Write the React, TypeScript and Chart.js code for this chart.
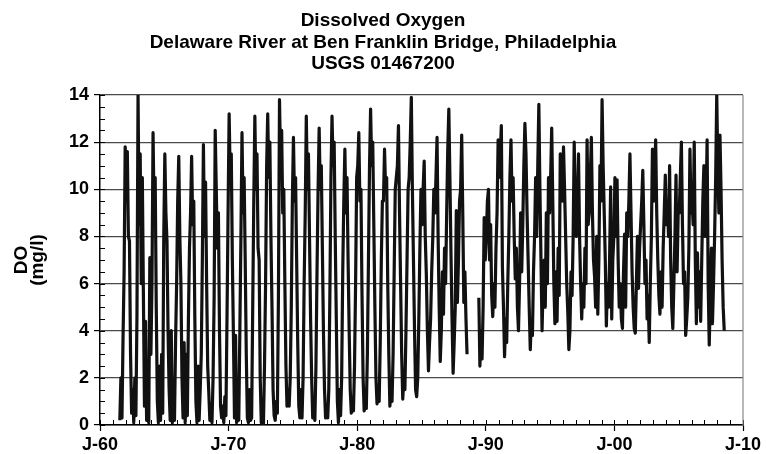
import React, { useEffect, useRef } from "react";
import { Chart, registerables } from "chart.js";

Chart.register(...registerables);

// ---- Titles / labels ----
const titleLines = [
  "Dissolved Oxygen",
  "Delaware River at Ben Franklin Bridge, Philadelphia",
  "USGS 01467200",
];
const yTitleLines = ["DO", "(mg/l)"];
const xTickValues = [1960, 1970, 1980, 1990, 2000, 2010];
const xTickLabels = ["J-60", "J-70", "J-80", "J-90", "J-00", "J-10"];

// ---- Data: monthly DO (mg/l), starting July 1961 ----
const firstYear = 1961;
const firstMonth = 6; // July (0-based)

const do1960s = [
  0.2, 2.0, 0.3, 3.7, 6.5, 11.8,
  9.5, 11.6, 8.0, 7.8, 3.0, 0.5, 1.5, 0.1, 2.0, 0.4, 4.7, 14.0,
  8.5, 11.5, 6.0, 10.5, 5.5, 0.8, 4.4, 0.2, 1.8, 0.1, 7.1, 3.0,
  6.0, 12.4, 9.0, 10.5, 5.0, 1.0, 0.1, 2.5, 0.2, 3.0, 0.5, 8.0,
  11.5, 9.0, 7.8, 4.0, 1.5, 0.2, 4.0, 0.1, 1.5, 0.2, 3.5, 6.0,
  9.5, 11.4, 8.0, 6.0, 2.0, 0.3, 3.5, 0.1, 3.0, 0.4, 4.5, 7.5,
  9.0, 11.4, 8.5, 9.5, 4.5, 1.0, 0.1, 2.5, 0.2, 1.5, 3.0, 7.0,
  11.9, 8.0, 10.3, 6.0, 2.5, 1.4, 0.2, 0.9, 0.1, 2.0, 5.4, 12.5,
  10.0, 7.5, 9.0, 4.0, 0.8, 0.3, 0.8, 0.1, 1.2, 0.4, 4.5, 9.0,
];
const do1970s = [
  13.2, 10.5, 11.5, 7.0, 3.8, 0.3, 3.8, 0.1, 0.5, 0.2, 4.0, 8.0,
  12.4, 9.0, 10.5, 7.0, 3.0, 0.3, 0.1, 1.5, 0.2, 0.3, 5.0, 9.5,
  13.1, 10.0, 11.5, 7.5, 7.0, 2.0, 0.1, 0.3, 0.0, 2.5, 6.0, 11.0,
  13.2, 10.5, 12.0, 8.0, 5.0, 1.5, 0.4, 0.2, 1.0, 0.5, 5.5, 13.8,
  11.0, 12.5, 9.0, 10.0, 6.0, 2.5, 0.8, 1.5, 0.8, 2.0, 5.0, 9.5,
  12.2, 9.5, 10.5, 7.0, 3.5, 0.8, 0.3, 1.5, 0.3, 2.0, 6.0, 9.0,
  13.1, 10.0, 11.5, 8.0, 4.5, 2.0, 0.3, 1.0, 0.2, 2.5, 6.5, 10.0,
  12.6, 10.0, 11.0, 7.5, 4.0, 1.5, 0.3, 0.8, 0.3, 1.5, 5.5, 10.5,
  13.1, 11.0, 12.0, 8.0, 4.5, 1.0, 0.1, 1.5, 0.4, 2.0, 6.5, 9.5,
  11.7, 9.0, 10.5, 7.0, 4.0, 1.5, 0.5, 1.0, 0.6, 2.5, 6.0, 10.5,
];
const do1980s = [
  11.0, 12.4, 9.5, 10.0, 5.5, 2.0, 0.6, 1.5, 0.7, 3.0, 7.0, 11.0,
  13.4, 11.0, 12.0, 8.5, 5.0, 2.0, 0.9, 1.5, 1.0, 3.5, 7.0, 9.5,
  9.5, 11.7, 10.0, 10.5, 6.0, 3.0, 0.8, 1.5, 1.0, 3.0, 6.5, 10.0,
  10.5, 11.0, 12.7, 9.0, 6.0, 3.0, 1.1, 2.0, 1.5, 4.0, 7.0, 10.0,
  10.5, 12.0, 13.9, 10.0, 7.0, 4.0, 1.5, 1.2, 2.0, 4.5, 7.5, 10.0,
  8.5, 10.0, 11.2, 8.0, 6.4, 4.0, 2.3, 3.5, 4.5, 6.5, 7.9, 10.0,
  9.0, 10.5, 12.2, 8.0, 5.0, 2.7, 4.0, 6.5, 4.7, 7.5, 6.0, 9.0,
  11.7, 13.4, 10.5, 7.3, 4.5, 2.2, 3.5, 5.0, 9.1, 5.2, 7.0, 9.5,
  10.0, 12.3, 9.0, 5.2, 6.5, 4.5, 3.0, null, null, null, null, null,
  null, null, null, null, null, 5.4, 2.5, 4.0, 2.8, 5.0, 8.8, 7.0,
];
const do1990s = [
  8.0, 9.5, 10.0, 7.0, 8.5, 5.5, 4.6, 6.0, 5.0, 7.5, 9.0, 12.1,
  10.5, 11.5, 12.7, 6.7, 5.0, 2.9, 4.5, 3.5, 6.0, 8.0, 10.5, 12.1,
  9.5, 10.5, 8.0, 6.2, 7.5, 5.0, 4.0, 6.0, 9.0, 6.5, 8.5, 11.0,
  12.8, 11.5, 9.0, 7.0, 5.0, 3.2, 4.5, 3.8, 6.5, 8.0, 10.5, 8.0,
  11.0, 13.6, 10.0, 7.0, 4.0, 6.0, 7.0, 5.0, 9.0, 6.0, 10.5, 9.0,
  10.5, 12.6, 9.5, 6.0, 4.3, 6.5, 4.4, 7.5, 5.5, 11.5, 11.2, 9.5,
  11.8, 10.0, 8.0, 6.0, 4.8, 3.2, 4.0, 6.5, 5.5, 8.0, 12.0, 9.0,
  8.0, 9.5, 11.5, 8.0, 6.0, 4.5, 6.0, 5.0, 7.5, 6.0, 12.1, 8.5,
  9.0, 10.5, 12.2, 9.0, 7.0, 6.3, 5.0, 8.0, 4.7, 7.0, 11.0, 9.5,
  13.8, 11.0, 9.0, 7.0, 4.2, 6.0, 5.0, 7.0, 10.1, 4.5, 7.0, 8.0,
];
const do2000s = [
  10.5, 8.0, 10.4, 7.0, 5.0, 6.0, 4.5, 4.1, 6.5, 8.1, 5.0, 9.0,
  8.0, 9.5, 11.5, 9.0, 6.5, 5.0, 4.1, 3.9, 6.0, 8.0, 5.8, 7.5,
  8.5, 9.5, 10.8, 8.5, 6.0, 7.0, 4.5, 5.5, 3.5, 6.0, 8.0, 11.7,
  9.5, 10.5, 12.1, 9.0, 7.0, 5.5, 4.7, 6.5, 5.0, 7.5, 9.0, 10.6,
  8.5, 9.5, 8.0, 11.0, 7.0, 5.0, 4.1, 6.0, 8.0, 10.6, 6.5, 9.0,
  9.0, 10.5, 12.0, 8.5, 6.0, 6.5, 3.8, 4.5, 5.4, 7.5, 11.7, 9.0,
  9.5, 8.5, 12.0, 7.0, 4.3, 7.3, 5.0, 6.5, 4.4, 7.0, 9.5, 11.0,
  8.0, 9.0, 12.1, 6.0, 3.4, 5.5, 7.5, 4.3, 6.0, 8.0, 10.5, 14.0,
  11.0, 9.0, 12.3, 10.0, 7.0, 5.0, 4.0,
];

const FONT = '"Liberation Sans", Arial, Helvetica, sans-serif';

const decorPlugin = {
  id: "decor",
  afterDraw(chart: any) {
    const { ctx, chartArea: a, scales } = chart;
    const x = scales.x;
    const y = scales.y;
    ctx.save();
    // minor ticks (inside)
    ctx.beginPath();
    ctx.strokeStyle = "#000";
    ctx.lineWidth = 1;
    for (let v = 0; v <= 14.001; v += 0.5) {
      const py = Math.round(y.getPixelForValue(v)) + 0.5;
      ctx.moveTo(a.left, py);
      ctx.lineTo(a.left + 5, py);
    }
    for (let yr = 1960; yr <= 2010; yr += 1) {
      const px = Math.round(x.getPixelForValue(yr)) + 0.5;
      ctx.moveTo(px, a.bottom);
      ctx.lineTo(px, a.bottom - 5);
    }
    ctx.stroke();
    // right frame
    ctx.beginPath();
    ctx.strokeStyle = "#888";
    ctx.lineWidth = 1.2;
    ctx.moveTo(a.right, a.top);
    ctx.lineTo(a.right, a.bottom);
    ctx.stroke();
    // title
    ctx.fillStyle = "#000";
    ctx.textAlign = "center";
    ctx.textBaseline = "alphabetic";
    ctx.font = `bold 19px ${FONT}`;
    const cx = chart.width / 2;
    titleLines.forEach((t, i) => ctx.fillText(t, cx, 26 + i * 21.5));
    ctx.restore();
  },
};

export default function App() {
  const ref = useRef<HTMLCanvasElement | null>(null);
  useEffect(() => {
    const all = [...do1960s, ...do1970s, ...do1980s, ...do1990s, ...do2000s];
    const points = all.map((v, i) => ({
      x: firstYear + (firstMonth + i) / 12 + 1 / 24,
      y: v,
    }));
    const chart = new Chart(ref.current as HTMLCanvasElement, {
      type: "line",
      data: {
        datasets: [
          {
            data: points as any,
            borderColor: "#111",
            borderWidth: 3.2,
            pointRadius: 0,
            tension: 0,
            spanGaps: false,
            borderJoinStyle: "round",
          },
        ],
      },
      options: {
        animation: false,
        responsive: false,
        parsing: false as any,
        layout: { padding: { left: 0, right: 23, top: 95, bottom: 0 } },
        plugins: { legend: { display: false }, tooltip: { enabled: false }, title: { display: false } },
        scales: {
          x: {
            type: "linear",
            min: 1960,
            max: 2010,
            afterBuildTicks: (s: any) => {
              s.ticks = xTickValues.map((v) => ({ value: v }));
            },
            ticks: {
              autoSkip: false,
              maxRotation: 0,
              color: "#000",
              padding: 3,
              font: { family: FONT, size: 18, weight: "bold" },
              callback: (v: any) => xTickLabels[xTickValues.indexOf(Number(v))] ?? "",
            },
            grid: { drawOnChartArea: false, drawTicks: true, tickLength: 6, tickColor: "#000", tickWidth: 1.2 },
            border: { display: true, color: "#000", width: 1.5 },
            afterFit: (s: any) => {
              s.height = 29;
            },
          },
          y: {
            min: 0,
            max: 14,
            ticks: {
              stepSize: 2,
              color: "#000",
              padding: 5,
              font: { family: FONT, size: 18, weight: "bold" },
            },
            grid: { color: "#4a4a4a", lineWidth: 1.2, tickColor: "#000", tickLength: 6, tickWidth: 1.2 },
            border: { display: true, color: "#000", width: 1.5 },
            title: {
              display: true,
              text: yTitleLines,
              color: "#000",
              font: { family: FONT, size: 19, weight: "bold", lineHeight: 0.88 },
              padding: { top: 13, bottom: 0 },
            },
            afterFit: (s: any) => {
              s.width = 100;
            },
          },
        },
      },
      plugins: [decorPlugin],
    });
    return () => chart.destroy();
  }, []);
  return (
    <div style={{ position: "fixed", left: 0, top: 0, width: 766, height: 454, background: "#fff" }}>
      <canvas ref={ref} width={766} height={454} style={{ display: "block" }} />
    </div>
  );
}
